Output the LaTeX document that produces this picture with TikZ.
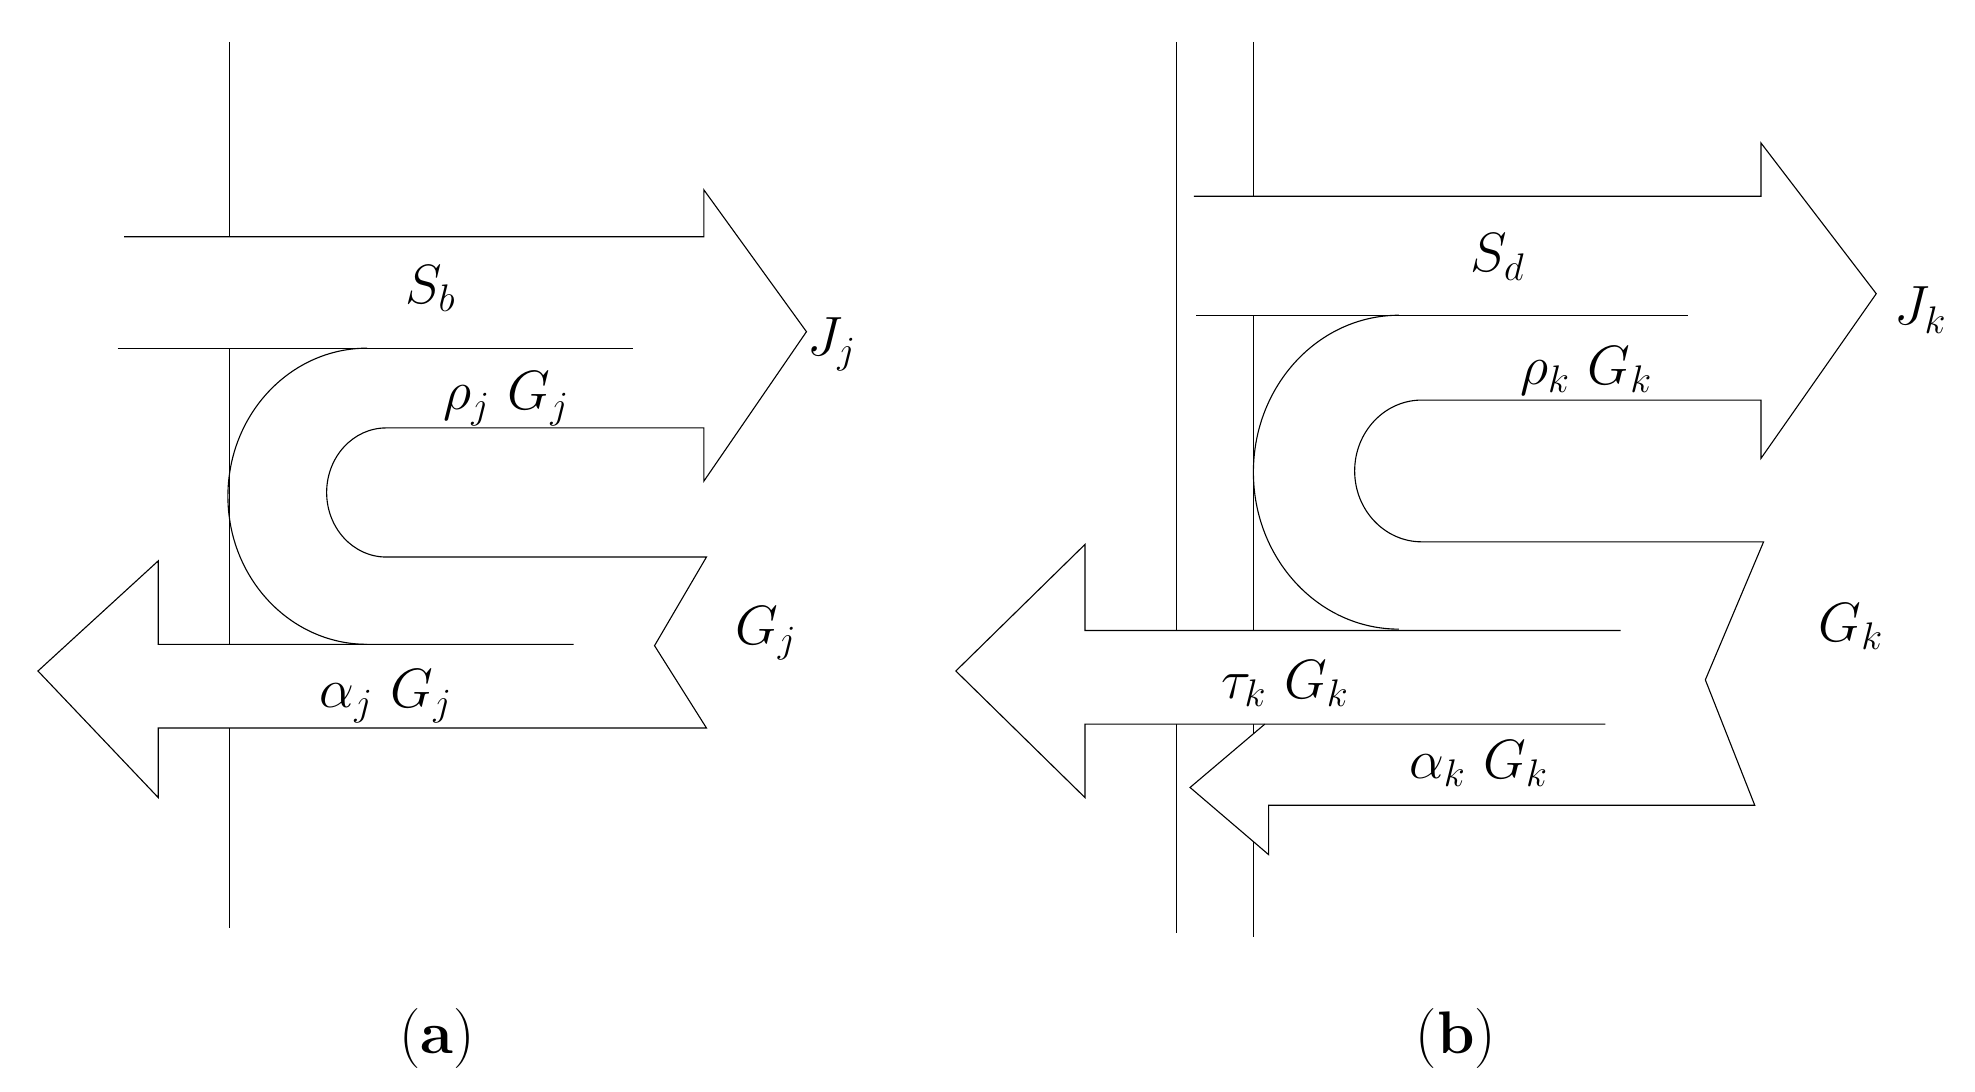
\documentclass[tikz,border=0pt]{standalone}
\begin{document}
\begin{tikzpicture}[x=0.02cm,y=-0.02cm,line width=0.5pt,
  lab/.style={font=\fontsize{26}{30}\selectfont,inner sep=0pt},
  pcap/.style={font=\fontsize{27}{31}\selectfont,inner sep=0pt},
  mask/.style={fill=white,draw=none}]
\useasboundingbox (0,0) rectangle (1560,862);
% ---------- vertical walls (drawn first, hidden behind the bands)
\draw (181,33) -- (181,733);
\draw (929,33) -- (929,737);
\draw (990,33) -- (990,740);
% ---------- white fills of the bands
\fill[mask] (98,187) -- (556,187) -- (556,150) -- (637,262) -- (556,380) -- (556,275) -- (98,275) -- cycle;
\fill[mask] (558,509) -- (558,575) -- (125,575) -- (125,630) -- (30,530) -- (125,443) -- (125,509) -- cycle;
\fill[mask] (943,155) -- (1391,155) -- (1391,113) -- (1482,232) -- (1391,362) -- (1391,249) -- (943,249) -- cycle;
\fill[mask] (1280,498) -- (857,498) -- (857,430) -- (755,530) -- (857,630) -- (857,572) -- (1280,572) -- cycle;
\fill[mask] (940,622) -- (999,572) -- (1370,572) -- (1386,636) -- (1002,636) -- (1002,675) -- cycle;
% ---------- panel (a)
\draw (98,187) -- (556,187) -- (556,150) -- (637,262) -- (556,380) -- (556,338) -- (305,338)
  arc[start angle=90,end angle=270,x radius=0.94cm,y radius=1.02cm] -- (558,440) -- (517,510) -- (558,575)
  -- (125,575) -- (125,630) -- (30,530) -- (125,443) -- (125,509) -- (453,509);
\draw (93,275) -- (500,275);
\draw (290,275) arc[start angle=90,end angle=270,x radius=2.2cm,y radius=2.34cm];
\node[lab] (sb) at (340,228) {$S_b$};
\node[lab] (jj) at (657,272) {$J_j$};
\node[lab] (rj) at (400,315) {$\rho_j\ G_j$};
\node[lab] (gj) at (605,500) {$G_j$};
\node[lab] (aj) at (305,550) {$\alpha_j\ G_j$};
\node[pcap] (ca) at (345,820) {(\textbf{a})};
% ---------- panel (b)
\draw (943,155) -- (1391,155) -- (1391,113) -- (1482,232) -- (1391,362) -- (1391,316) -- (1123,316)
  arc[start angle=90,end angle=270,x radius=1.06cm,y radius=1.12cm] -- (1393,428) -- (1347,537) -- (1386,636)
  -- (1002,636) -- (1002,675) -- (940,622) -- (999,572);
\draw (945,249) -- (1333,249);
\draw (1105,249) arc[start angle=90,end angle=270,x radius=2.3cm,y radius=2.48cm];
\draw (1280,498) -- (857,498) -- (857,430) -- (755,530) -- (857,630) -- (857,572) -- (1268,572);
\node[lab] (sd) at (1183,203) {$S_d$};
\node[lab] (jk) at (1517,245) {$J_k$};
\node[lab] (rk) at (1253,293) {$\rho_k\ G_k$};
\node[lab] (gk) at (1462,495) {$G_k$};
\node[lab] (tk) at (1015,540) {$\tau_k\ G_k$};
\node[lab] (ak) at (1168,603) {$\alpha_k\ G_k$};
\node[pcap] (cb) at (1150,820) {(\textbf{b})};
\end{tikzpicture}
\end{document}
